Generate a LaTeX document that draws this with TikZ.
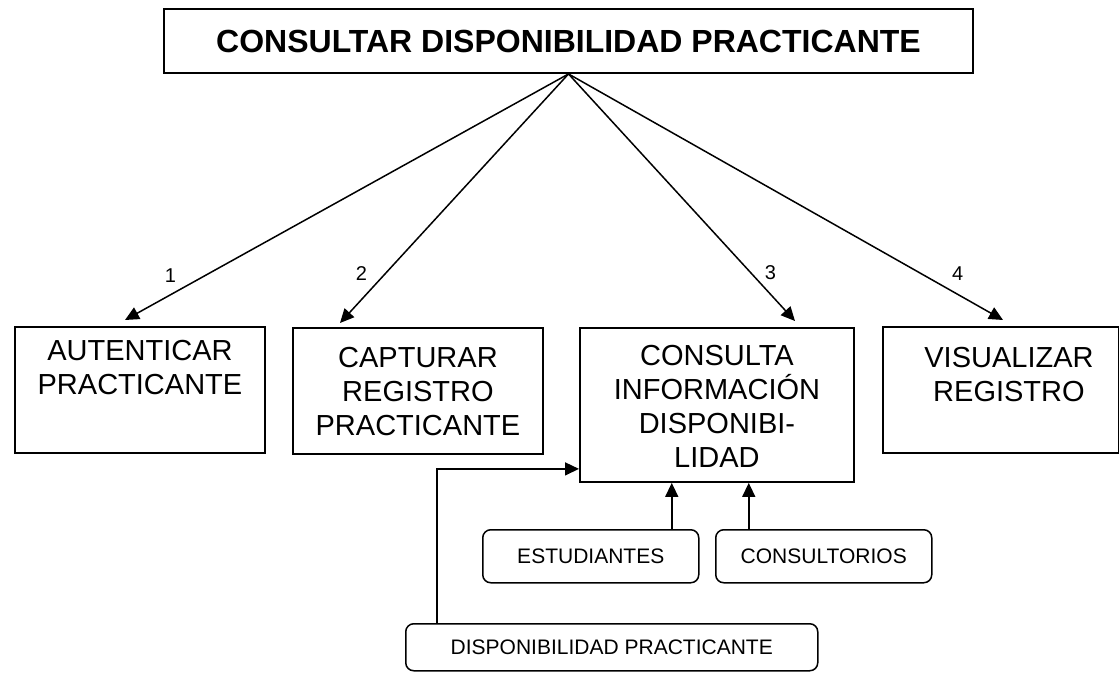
\documentclass[tikz,border=0pt]{standalone}
\usepackage{fontspec}
\setmainfont{Liberation Sans}
\usetikzlibrary{arrows.meta,positioning,calc}

\begin{document}
\begin{tikzpicture}[
    x=1pt, y=-1pt,
    caja/.style={draw,line width=1.9pt,anchor=north west,minimum height=126pt,inner sep=0pt},
    texto/.style={align=center,inner sep=0pt,font=\fontsize{29}{34}\selectfont},
    fuente/.style={draw,line width=1.5pt,rounded corners=8pt,anchor=north west,minimum height=53pt,inner sep=0pt,font=\fontsize{21}{25}\selectfont},
    num/.style={inner sep=0pt,font=\fontsize{20}{24}\selectfont},
    >={Triangle[length=14pt,width=13pt]},
    flecha/.style={->,line width=1.5pt}
]
\useasboundingbox (0,0) rectangle (1119,672);
% titulo
\node[draw,line width=1.9pt,minimum width=809pt,minimum height=64pt,inner sep=0pt,font=\bfseries\fontsize{32}{38}\selectfont] (tit) at (568.5,41) {CONSULTAR DISPONIBILIDAD PRACTICANTE};

% modulos
\node[caja,minimum width=250pt] (aut) at (14,326) {};
\node[caja,minimum width=250pt] (cap) at (292,327) {};
\node[caja,minimum width=274pt,minimum height=154pt] (con) at (579,327) {};
\node[caja,minimum width=236pt] (vis) at (882,326) {};
\node[texto,below=14pt of aut.north] (autT) {AUTENTICAR\\PRACTICANTE};
\node[texto,below=20pt of cap.north] (capT) {CAPTURAR\\REGISTRO\\PRACTICANTE};
\node[texto,below=18pt of con.north] (conT) {CONSULTA\\INFORMACIÓN\\DISPONIBI-\\LIDAD};
\node[texto,below=21pt of vis.north,xshift=8pt] (visT) {VISUALIZAR\\REGISTRO};

% fuentes de datos
\node[fuente,minimum width=216pt] (est) at (482,529) {ESTUDIANTES};
\node[fuente,minimum width=216pt] (cons) at (715,529) {CONSULTORIOS};
\node[fuente,minimum width=412pt,minimum height=47pt] (disp) at (405,623) {DISPONIBILIDAD PRACTICANTE};

% flechas
\draw[flecha] (tit.south) -- ([xshift=111pt,yshift=6pt]aut.north west) node[num,pos=0.82,left=28pt] (n1) {1};
\draw[flecha] (tit.south) -- ([xshift=48pt,yshift=4pt]cap.north west) node[num,pos=0.8,left=18pt] (n2) {2};
\draw[flecha] (tit.south) -- ([xshift=216pt,yshift=6pt]con.north west) node[num,pos=0.806,right=13pt] (n3) {3};
\draw[flecha] (tit.south) -- ([xshift=121pt,yshift=6pt]vis.north west) node[num,pos=0.81,right=31pt] (n4) {4};
\draw[flecha] ([xshift=81pt]est.north) -- ([xshift=81pt]est.north |- con.south);
\draw[flecha] ([xshift=-75pt]cons.north) -- ([xshift=-75pt]cons.north |- con.south);
\draw[flecha] ([xshift=32pt]disp.north west) |- ([yshift=14pt]con.south west);
\end{tikzpicture}
\end{document}
